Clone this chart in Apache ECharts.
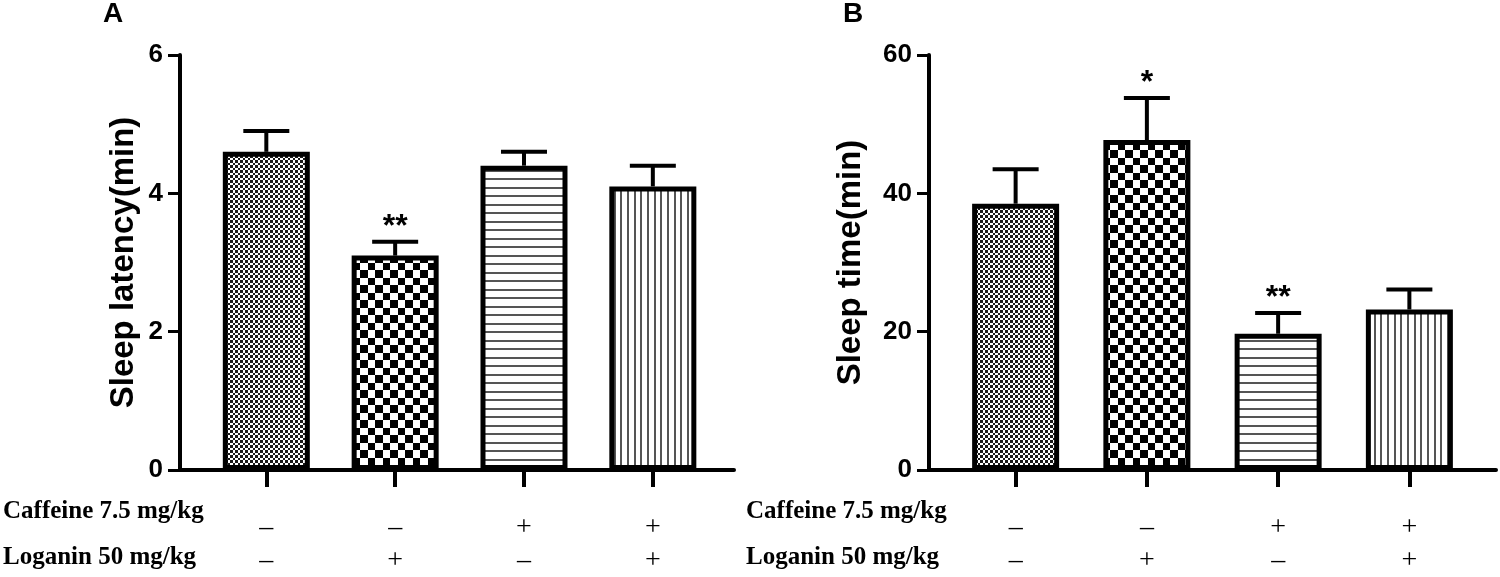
<!DOCTYPE html>
<html>
<head>
<meta charset="utf-8">
<title>Sleep latency / Sleep time</title>
<script src="https://cdn.jsdelivr.net/npm/echarts@6.0.0/dist/echarts.min.js"></script>
<style>
    html, body { margin: 0; padding: 0; background: #fff; }
    #chart { width: 1500px; height: 577px; }
</style>
</head>
<body>
<div id="chart"></div>
<script>
// groups (position on the x axis) and treatment table
var groups = [0, 1, 2, 3];
var caffeine = ['\u2013', '\u2013', '+', '+'];
var loganin = ['\u2013', '+', '\u2013', '+'];
var rowNames = ['Caffeine 7.5 mg/kg', 'Loganin 50 mg/kg'];

// panel A: sleep latency (min)
var latencyMean = [4.6, 3.1, 4.4, 4.1];
var latencyErr = [0.3, 0.2, 0.2, 0.3];
var latencySig = ['', '**', '', ''];
var latencyTicks = [0, 2, 4, 6];

// panel B: sleep time (min)
var sleepMean = [38.5, 47.7, 19.7, 23.2];
var sleepErr = [5.0, 6.1, 3.0, 2.9];
var sleepSig = ['', '*', '**', ''];
var sleepTicks = [0, 20, 40, 60];

var SANS = 'Arial, "Liberation Sans", sans-serif';
var SERIF = '"Times New Roman", "Liberation Serif", serif';

// hatch fills, drawn once on small canvases
function tile(w, h, draw) {
    var c = document.createElement('canvas');
    c.width = w;
    c.height = h;
    var ctx = c.getContext('2d');
    ctx.fillStyle = '#fff';
    ctx.fillRect(0, 0, w, h);
    draw(ctx);
    return { image: c, repeat: 'repeat' };
}
function checker(edges, col) {
    return function (ctx) {
        ctx.fillStyle = col;
        for (var i = 0; i < edges.length - 1; i++) {
            for (var j = 0; j < edges.length - 1; j++) {
                if ((i + j) % 2 === 0) {
                    ctx.fillRect(edges[i], edges[j], edges[i + 1] - edges[i], edges[j + 1] - edges[j]);
                }
            }
        }
    };
}
var patterns = [
    tile(10, 10, checker([0, 3, 5, 8, 10], '#1a1a1a')),
    tile(15, 15, checker([0, 8, 15], '#000')),
    tile(4, 17, function (ctx) {
        ctx.fillStyle = '#555';
        ctx.fillRect(0, 0, 4, 2);
        ctx.fillRect(0, 8, 4, 2);
    }),
    tile(20, 4, function (ctx) {
        ctx.fillStyle = '#555';
        ctx.fillRect(0, 0, 2, 4);
        ctx.fillRect(7, 0, 2, 4);
        ctx.fillRect(14, 0, 2, 4);
    })
];

function barData(means) {
    return groups.map(function (g, i) {
        return { value: [g, means[i]], itemStyle: { color: patterns[i] } };
    });
}
function errData(means, errs) {
    return groups.map(function (g, i) {
        return [g, means[i], errs[i]];
    });
}

// error bar (mean -> mean + SEM) with cap and significance mark
function errorRenderer(sig) {
    return function (params, api) {
        var x = api.value(0), m = api.value(1), e = api.value(2);
        var base = api.coord([x, m]);
        var top = api.coord([x, m + e]);
        var line = { stroke: '#000', lineWidth: 4 };
        var kids = [
            { type: 'line', shape: { x1: base[0], y1: base[1], x2: top[0], y2: top[1] }, style: line },
            { type: 'line', shape: { x1: top[0] - 23, y1: top[1], x2: top[0] + 23, y2: top[1] }, style: line }
        ];
        var s = sig[params.dataIndex];
        if (s) {
            kids.push({
                type: 'text',
                style: {
                    x: top[0], y: top[1] - 15, text: s,
                    align: 'center', verticalAlign: 'middle',
                    font: 'bold 32px ' + SANS, fill: '#000'
                }
            });
        }
        return { type: 'group', children: kids };
    };
}

function xAxisOf(gridIndex, min, max) {
    return {
        type: 'value',
        gridIndex: gridIndex,
        min: min,
        max: max,
        splitLine: { show: false },
        axisLine: { onZero: false, lineStyle: { color: '#000', width: 4 } },
        axisTick: { customValues: groups, length: 17, lineStyle: { color: '#000', width: 4 } },
        axisLabel: {
            customValues: groups,
            margin: 41,
            lineHeight: 33,
            fontFamily: SERIF,
            fontSize: 28,
            color: '#000',
            formatter: function (v) {
                return caffeine[v] + '\n' + loganin[v];
            }
        }
    };
}
function yAxisOf(gridIndex, ticks, name, gap) {
    return {
        type: 'value',
        gridIndex: gridIndex,
        min: ticks[0],
        max: ticks[ticks.length - 1],
        interval: ticks[1] - ticks[0],
        name: name,
        nameLocation: 'middle',
        nameGap: gap,
        nameTextStyle: { fontFamily: SANS, fontWeight: 'bold', fontSize: 33, color: '#000' },
        splitLine: { show: false },
        axisLine: { show: true, onZero: false, lineStyle: { color: '#000', width: 4 } },
        axisTick: { show: true, length: 12, lineStyle: { color: '#000', width: 3 } },
        axisLabel: { margin: 17, fontFamily: SANS, fontWeight: 'bold', fontSize: 26, color: '#000' }
    };
}

function rowText(x, y, txt) {
    return {
        type: 'text', x: x, y: y,
        style: { text: txt, font: 'bold 25px ' + SERIF, fill: '#000', verticalAlign: 'middle' }
    };
}
function letter(x, txt) {
    return {
        type: 'text', x: x, y: 14,
        style: { text: txt, font: 'bold 28px ' + SANS, fill: '#000', verticalAlign: 'middle' }
    };
}

var chart = echarts.init(document.getElementById('chart'));
var option = {
    animation: false,
    backgroundColor: '#fff',
    grid: [
        { left: 180, top: 55, width: 554, height: 417 },
        { left: 929, top: 55, width: 567, height: 417 }
    ],
    xAxis: [
        xAxisOf(0, -0.67, 3.63),
        xAxisOf(1, -0.66, 3.66)
    ],
    yAxis: [
        yAxisOf(0, latencyTicks, 'Sleep latency(min)', 40),
        yAxisOf(1, sleepTicks, 'Sleep time(min)', 62)
    ],
    graphic: [
        letter(103, 'A'),
        letter(843, 'B'),
        rowText(3, 512, rowNames[0]),
        rowText(3, 558, rowNames[1]),
        rowText(746, 512, rowNames[0]),
        rowText(746, 558, rowNames[1])
    ],
    series: [
        {
            type: 'bar', xAxisIndex: 0, yAxisIndex: 0,
            barWidth: 87,
            itemStyle: { borderColor: '#000', borderWidth: 5 },
            data: barData(latencyMean)
        },
        {
            type: 'custom', xAxisIndex: 0, yAxisIndex: 0,
            renderItem: errorRenderer(latencySig),
            data: errData(latencyMean, latencyErr)
        },
        {
            type: 'bar', xAxisIndex: 1, yAxisIndex: 1,
            barWidth: 87,
            itemStyle: { borderColor: '#000', borderWidth: 5 },
            data: barData(sleepMean)
        },
        {
            type: 'custom', xAxisIndex: 1, yAxisIndex: 1,
            renderItem: errorRenderer(sleepSig),
            data: errData(sleepMean, sleepErr)
        }
    ]
};
chart.setOption(option);
</script>
</body>
</html>
